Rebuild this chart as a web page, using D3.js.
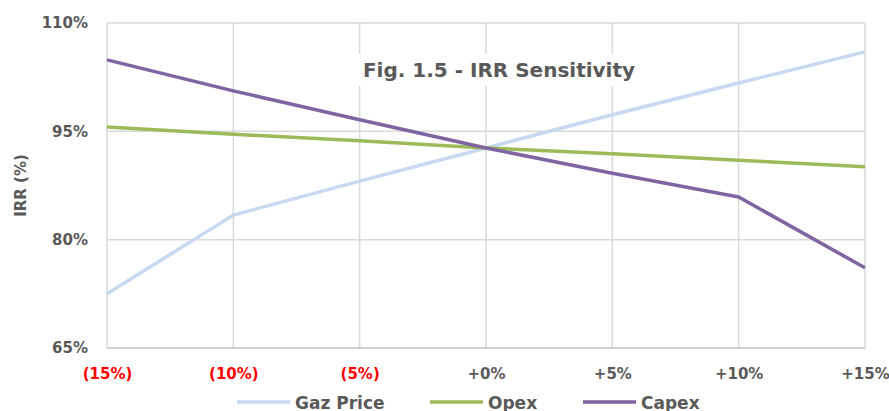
<!DOCTYPE html>
<html>
<head>
<meta charset="utf-8">
<script src="https://cdn.jsdelivr.net/npm/d3@7"></script>
<style>
  body { margin: 0; background: #fff; }
  text { font-family: "DejaVu Sans", sans-serif; font-weight: bold; }
</style>
</head>
<body>
<svg width="889" height="411"></svg>
<script>
var categories = ["(15%)", "(10%)", "(5%)", "+0%", "+5%", "+10%", "+15%"];
var gazPrice = [72.5, 83.4, 88.1, 92.7, 97.3, 101.7, 106.0];
var opex = [95.6, 94.6, 93.7, 92.7, 91.9, 91.0, 90.1];
var capex = [104.9, 100.6, 96.6, 92.7, 89.2, 85.9, 76.1];
var yTicks = [65, 80, 95, 110];
var seriesNames = ["Gaz Price", "Opex", "Capex"];
var seriesColors = ["#c6d9f1", "#9bbb59", "#8064a2"];

var svg = d3.select("svg");
var margin = {left: 107, right: 24, top: 23, bottom: 63};
var width = +svg.attr("width"), height = +svg.attr("height");

var x = d3.scalePoint()
    .domain(categories)
    .range([margin.left, width - margin.right]);
var y = d3.scaleLinear()
    .domain([65, 110])
    .range([height - margin.bottom, margin.top]);

// gridlines
svg.append("g").selectAll("line.v")
  .data(categories)
  .enter().append("line")
    .attr("x1", function(d) { return x(d); })
    .attr("x2", function(d) { return x(d); })
    .attr("y1", y(110))
    .attr("y2", y(65))
    .attr("stroke", "#d9d9d9")
    .attr("stroke-width", 1.5);
svg.append("g").selectAll("line.h")
  .data(yTicks)
  .enter().append("line")
    .attr("x1", x(categories[0]))
    .attr("x2", x(categories[categories.length - 1]))
    .attr("y1", function(d) { return y(d); })
    .attr("y2", function(d) { return y(d); })
    .attr("stroke", function(d) { return d === 65 ? "#bfbfbf" : "#d9d9d9"; })
    .attr("stroke-width", 1.5);

// y axis
var yAxis = svg.append("g")
    .attr("transform", "translate(" + (margin.left - 16) + ",0)")
    .call(d3.axisLeft(y).tickValues(yTicks).tickSize(0).tickFormat(function(d) { return d + "%"; }));
yAxis.select(".domain").remove();
yAxis.selectAll("text")
    .attr("fill", "#595959")
    .style("font-size", "15px")
    .style("font-family", "DejaVu Sans")
    .style("font-weight", "bold");

// x axis
var xAxis = svg.append("g")
    .attr("transform", "translate(0," + (height - margin.bottom + 17) + ")")
    .call(d3.axisBottom(x).tickSize(0));
xAxis.select(".domain").remove();
xAxis.selectAll("text")
    .attr("fill", function(d) { return d.charAt(0) === "(" ? "#ff0000" : "#595959"; })
    .style("font-size", "15px")
    .style("font-family", "DejaVu Sans")
    .style("font-weight", "bold");

svg.append("text")
    .attr("transform", "translate(26," + ((y(65) + y(110)) / 2) + ") rotate(-90)")
    .attr("text-anchor", "middle")
    .attr("fill", "#595959")
    .style("font-size", "15px")
    .text("IRR (%)");

// title with white box
var title = svg.append("g");
var titleBg = title.append("rect").attr("fill", "#fff");
var titleText = title.append("text")
    .attr("x", 499)
    .attr("y", 77)
    .attr("text-anchor", "middle")
    .attr("fill", "#595959")
    .style("font-size", "20px")
    .text("Fig. 1.5 - IRR Sensitivity");
var bb = titleText.node().getBBox();
titleBg.attr("x", bb.x - 6).attr("y", bb.y - 4).attr("width", bb.width + 12).attr("height", bb.height + 8);

// lines
var line = d3.line()
    .x(function(d, i) { return x(categories[i]); })
    .y(function(d) { return y(d); });
var allSeries = [gazPrice, opex, capex];
svg.append("g").selectAll("path")
  .data(allSeries)
  .enter().append("path")
    .attr("d", line)
    .attr("fill", "none")
    .attr("stroke", function(d, i) { return seriesColors[i]; })
    .attr("stroke-width", 3.5)
    .attr("stroke-linejoin", "round");

// legend (cut at the bottom edge, as in the reference)
var legendX = [237, 430, 583];
var legend = svg.append("g").selectAll("g")
  .data(seriesNames)
  .enter().append("g")
    .attr("transform", function(d, i) { return "translate(" + legendX[i] + ",402)"; });
legend.append("line")
    .attr("x1", 0).attr("x2", 53)
    .attr("stroke", function(d, i) { return seriesColors[i]; })
    .attr("stroke-width", 3.5);
legend.append("text")
    .attr("x", 58)
    .attr("y", 7)
    .attr("fill", "#595959")
    .style("font-size", "17px")
    .text(function(d) { return d; });
</script>
</body>
</html>
